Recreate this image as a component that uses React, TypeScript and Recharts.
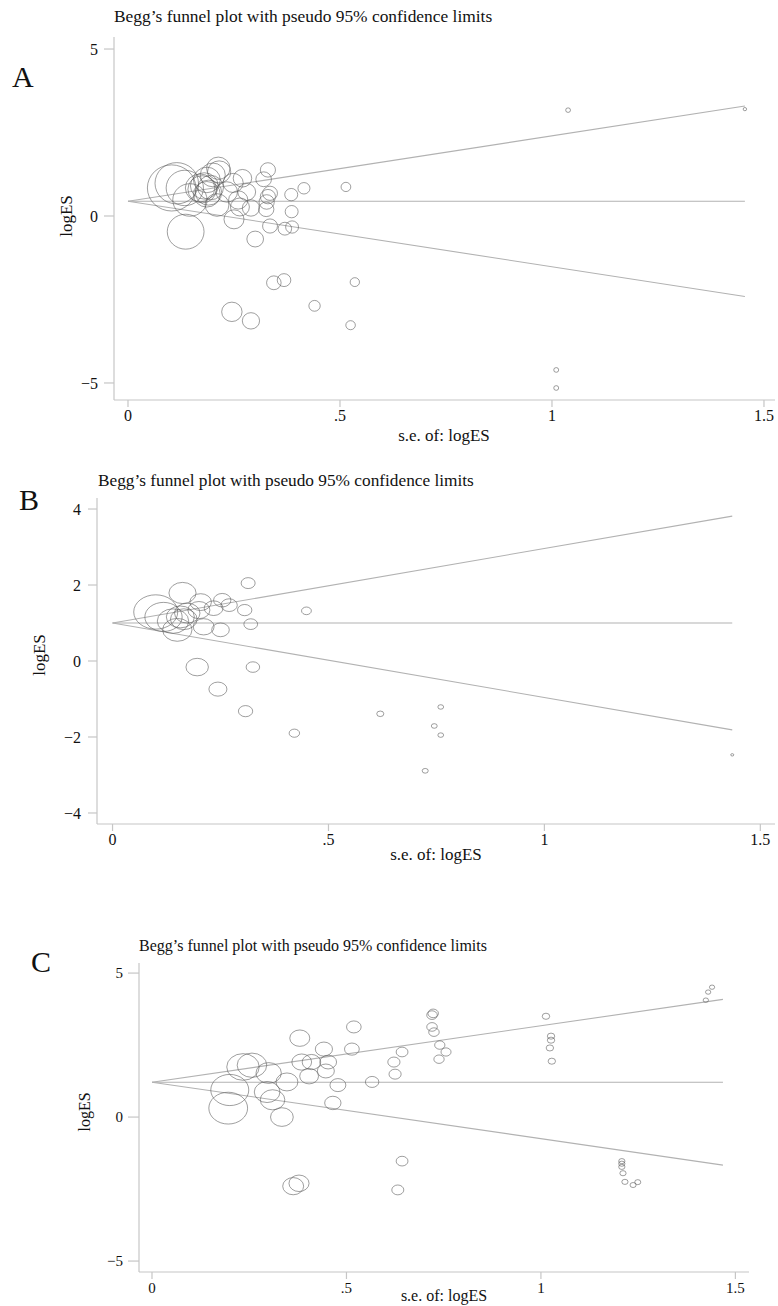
import React from 'react';
import { ScatterChart, Scatter, XAxis, YAxis, ReferenceLine } from 'recharts';

// ---------- Data ----------
// Panel A
const seA = [0.115, 0.103, 0.134, 0.146, 0.17, 0.175, 0.18, 0.186, 0.19, 0.195, 0.186, 0.2, 0.215, 0.213, 0.21, 0.233, 0.248, 0.26, 0.264, 0.27, 0.28, 0.29, 0.25, 0.33, 0.32, 0.327, 0.33, 0.335, 0.326, 0.385, 0.386, 0.415, 0.514, 0.335, 0.37, 0.387, 0.3, 0.136, 0.344, 0.368, 0.535, 0.44, 0.245, 0.29, 0.525, 1.038, 1.455, 1.01, 1.01];
const logEsA = [0.98, 0.84, 0.84, 0.48, 0.84, 0.8, 0.9, 0.65, 0.7, 0.85, 1.08, 1.23, 1.32, 1.43, 0.33, 0.72, 0.99, 0.48, 0.27, 1.13, 0.72, 0.24, -0.1, 1.38, 1.1, 0.42, 0.58, 0.68, 0.2, 0.64, 0.13, 0.83, 0.87, -0.3, -0.38, -0.33, -0.69, -0.47, -2.0, -1.92, -1.98, -2.69, -2.87, -3.14, -3.27, 3.17, 3.2, -4.61, -5.15];

// Panel B
const seB = [0.1, 0.118, 0.14, 0.162, 0.157, 0.165, 0.15, 0.173, 0.204, 0.2, 0.211, 0.234, 0.254, 0.27, 0.25, 0.306, 0.314, 0.32, 0.449, 0.196, 0.325, 0.244, 0.308, 0.421, 0.62, 0.76, 0.745, 0.76, 0.724, 1.435];
const logEsB = [1.29, 1.16, 1.05, 1.79, 1.16, 1.1, 0.82, 1.26, 1.55, 1.34, 0.9, 1.39, 1.6, 1.47, 0.82, 1.34, 2.05, 0.97, 1.32, -0.16, -0.16, -0.74, -1.32, -1.9, -1.39, -1.21, -1.71, -1.95, -2.89, -2.47];

// Panel C
const seC = [1.44, 1.43, 1.424, 1.013, 1.026, 1.026, 1.023, 1.028, 0.723, 0.72, 0.72, 0.725, 0.74, 0.756, 0.738, 0.643, 0.622, 0.625, 0.566, 0.519, 0.514, 0.478, 0.465, 0.442, 0.453, 0.447, 0.41, 0.404, 0.38, 0.385, 0.643, 0.632, 1.208, 1.208, 1.208, 1.211, 1.216, 1.237, 1.249, 0.196, 0.2, 0.334, 0.363, 0.378, 0.31, 0.257, 0.234, 0.3, 0.347, 0.296];
const logEsC = [4.51, 4.34, 4.06, 3.5, 2.81, 2.67, 2.4, 1.94, 3.6, 3.54, 3.13, 2.95, 2.5, 2.26, 2.01, 2.26, 1.91, 1.49, 1.22, 3.13, 2.36, 1.11, 0.49, 2.36, 1.91, 1.6, 1.91, 1.42, 2.74, 1.91, -1.53, -2.53, -1.53, -1.62, -1.73, -1.95, -2.25, -2.36, -2.26, 0.31, 0.94, 0.0, -2.4, -2.3, 0.6, 1.8, 1.74, 1.53, 1.22, 0.87];

// Pooled estimates and largest s.e. (funnel extents)
const pooledA = 0.44;
const pooledB = 1.0;
const pooledC = 1.21;
const seMaxA = 1.455;
const seMaxB = 1.435;
const seMaxC = 1.468;

// Tick values and labels
const xTicks = [0, 0.5, 1, 1.5];
const xTickLabels = ['0', '.5', '1', '1.5'];
const yTicksA = [-5, 0, 5];
const yTicksB = [-4, -2, 0, 2, 4];
const yTicksC = [-5, 0, 5];

const TITLE = 'Begg\u2019s funnel plot with pseudo 95% confidence limits';
const X_LABEL = 's.e. of: logES';
const Y_LABEL = 'logES';

const build = (se: number[], es: number[]) => se.map((s, i) => ({ se: s, es: es[i] }));

const FONT = '"Liberation Serif", "DejaVu Serif", serif';
const AXIS_COLOR = '#c6c6c6';
const LINE_COLOR = '#b2b2b2';

type PanelProps = {
  data: { se: number; es: number }[];
  pooled: number;
  seMax: number;
  top: number;
  height: number;
  plotLeft: number;
  plotRight: number;
  plotTop: number;
  plotBottom: number;
  xDomain: [number, number];
  yDomain: [number, number];
  yTicks: number[];
  k: number;
  ratio: number;
  tickFont: number;
  yTickSize: number;
  yTickMargin: number;
};

const fmtY = (v: number) => (v < 0 ? '\u2212' + Math.abs(v) : String(v));
const fmtX = (v: number) => {
  const i = xTicks.indexOf(v);
  return i >= 0 ? xTickLabels[i] : String(v);
};

function Panel(p: PanelProps) {
  const yAxisWidth = 40;
  const xAxisHeight = 30;
  const margin = {
    top: p.plotTop - p.top,
    left: p.plotLeft - yAxisWidth,
    right: 778 - p.plotRight,
    bottom: p.top + p.height - p.plotBottom - xAxisHeight,
  };
  const shape = (props: any) => {
    const { cx, cy, payload } = props;
    if (cx == null || cy == null) return <g />;
    const rx = p.k / payload.se;
    return (
      <ellipse
        cx={cx}
        cy={cy}
        rx={rx}
        ry={rx * p.ratio}
        fill="none"
        stroke="#5a5a5a"
        strokeOpacity={0.58}
        strokeWidth={1}
      />
    );
  };
  const tickStyle = { fill: '#111', fontSize: p.tickFont, fontFamily: FONT, style: { fontFamily: FONT } };
  return (
    <div style={{ position: 'absolute', left: 0, top: p.top, fontFamily: FONT }}>
      <ScatterChart width={778} height={p.height} margin={margin} style={{ fontFamily: FONT }}>
        <XAxis
          type="number"
          dataKey="se"
          domain={p.xDomain}
          allowDataOverflow
          ticks={xTicks}
          interval={0}
          tickFormatter={fmtX}
          height={xAxisHeight}
          axisLine={{ stroke: AXIS_COLOR, strokeWidth: 1.2 }}
          tickLine={{ stroke: AXIS_COLOR, strokeWidth: 1.2 }}
          tickSize={7}
          tickMargin={3}
          tick={tickStyle}
        />
        <YAxis
          type="number"
          dataKey="es"
          domain={p.yDomain}
          allowDataOverflow
          ticks={p.yTicks}
          interval={0}
          tickFormatter={fmtY}
          width={yAxisWidth}
          axisLine={{ stroke: AXIS_COLOR, strokeWidth: 1.2 }}
          tickLine={{ stroke: AXIS_COLOR, strokeWidth: 1.2 }}
          tickSize={p.yTickSize}
          tickMargin={p.yTickMargin}
          tick={tickStyle}
        />
        <ReferenceLine
          segment={[{ x: 0, y: p.pooled }, { x: p.seMax, y: p.pooled + 1.96 * p.seMax }]}
          stroke={LINE_COLOR}
          strokeWidth={1.1}
          ifOverflow="visible"
        />
        <ReferenceLine
          segment={[{ x: 0, y: p.pooled }, { x: p.seMax, y: p.pooled }]}
          stroke={LINE_COLOR}
          strokeWidth={1.1}
          ifOverflow="visible"
        />
        <ReferenceLine
          segment={[{ x: 0, y: p.pooled }, { x: p.seMax, y: p.pooled - 1.96 * p.seMax }]}
          stroke={LINE_COLOR}
          strokeWidth={1.1}
          ifOverflow="visible"
        />
        <Scatter data={p.data} shape={shape} isAnimationActive={false} />
      </ScatterChart>
    </div>
  );
}

type TextSpec = {
  letter: string;
  letterX: number;
  letterY: number;
  titleX: number;
  titleY: number;
  titleSize: number;
  xLabelX: number;
  xLabelY: number;
  yLabelX: number;
  yLabelY: number;
  labelSize: number;
};

const texts: TextSpec[] = [
  { letter: 'A', letterX: 12, letterY: 87, titleX: 114, titleY: 22, titleSize: 17.4, xLabelX: 444, xLabelY: 441, yLabelX: 72, yLabelY: 216, labelSize: 17 },
  { letter: 'B', letterX: 19, letterY: 510, titleX: 98, titleY: 486, titleSize: 17.3, xLabelX: 436, xLabelY: 860, yLabelX: 45, yLabelY: 655, labelSize: 17 },
  { letter: 'C', letterX: 31, letterY: 972, titleX: 139, titleY: 951, titleSize: 16, xLabelX: 444, xLabelY: 1301, yLabelX: 90, yLabelY: 1112, labelSize: 16 },
];

export default function App() {
  return (
    <div style={{ position: 'absolute', left: 0, top: 0, width: 778, height: 1306, background: '#fff', overflow: 'hidden', fontFamily: FONT }}>
      <Panel
        data={build(seA, logEsA)}
        pooled={pooledA}
        seMax={seMaxA}
        top={0}
        height={450}
        plotLeft={114}
        plotRight={775}
        plotTop={37}
        plotBottom={400}
        xDomain={[-0.033, 1.526]}
        yDomain={[-5.51, 5.36]}
        yTicks={yTicksA}
        k={2.5}
        ratio={0.95}
        tickFont={16}
        yTickSize={10}
        yTickMargin={6}
      />
      <Panel
        data={build(seB, logEsB)}
        pooled={pooledB}
        seMax={seMaxB}
        top={460}
        height={410}
        plotLeft={97}
        plotRight={775}
        plotTop={498}
        plotBottom={824}
        xDomain={[-0.036, 1.534]}
        yDomain={[-4.29, 4.29]}
        yTicks={yTicksB}
        k={2.2}
        ratio={0.78}
        tickFont={16}
        yTickSize={9}
        yTickMargin={7}
      />
      <Panel
        data={build(seC, logEsC)}
        pooled={pooledC}
        seMax={seMaxC}
        top={900}
        height={406}
        plotLeft={139}
        plotRight={749}
        plotTop={963}
        plotBottom={1272}
        xDomain={[-0.0334, 1.535]}
        yDomain={[-5.38, 5.35]}
        yTicks={yTicksC}
        k={3.8}
        ratio={0.82}
        tickFont={15}
        yTickSize={11}
        yTickMargin={5}
      />
      <svg
        width={778}
        height={1306}
        style={{ position: 'absolute', left: 0, top: 0, pointerEvents: 'none', fontFamily: FONT }}
      >
        {texts.map((t) => (
          <g key={t.letter} fill="#111" style={{ fontFamily: FONT }}>
            <text x={t.letterX} y={t.letterY} fontSize={30}>
              {t.letter}
            </text>
            <text x={t.titleX} y={t.titleY} fontSize={t.titleSize}>
              {TITLE}
            </text>
            <text x={t.xLabelX} y={t.xLabelY} fontSize={t.labelSize} textAnchor="middle">
              {X_LABEL}
            </text>
            <text
              x={t.yLabelX}
              y={t.yLabelY}
              fontSize={t.labelSize}
              textAnchor="middle"
              transform={`rotate(-90 ${t.yLabelX} ${t.yLabelY})`}
            >
              {Y_LABEL}
            </text>
          </g>
        ))}
      </svg>
    </div>
  );
}
